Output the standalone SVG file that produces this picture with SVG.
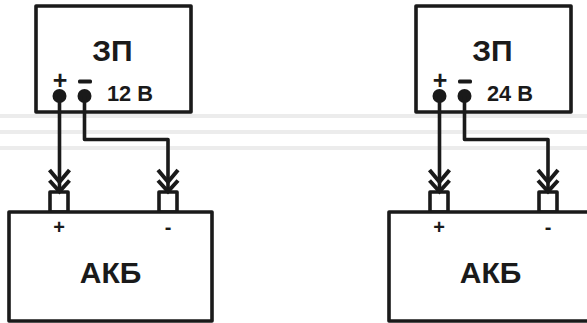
<svg xmlns="http://www.w3.org/2000/svg" width="587" height="323" viewBox="0 0 587 323">
<style>
.bg{stroke:#ececec;stroke-width:4;fill:none}
.box{fill:#fff;stroke:#1a1a1a;stroke-width:3.6;stroke-linejoin:round}
.w{fill:none;stroke:#1a1a1a;stroke-width:3.6;stroke-linejoin:round}
.c{fill:none;stroke:#1a1a1a;stroke-width:4}
.d{fill:#1a1a1a}
text{font-family:"Liberation Sans",Arial,sans-serif;font-weight:700;fill:#1a1a1a;text-anchor:middle}
.t{font-size:30px}.v{font-size:21.800px}.s{font-size:25px}.p{font-size:20px}
</style>
<defs>
<path id="ch" class="c" d="M-10,-22 L0,-10 L10,-22 M-10,-11.500 L0,-0.500 L10,-11.500"/>
</defs>
<rect width="587" height="323" fill="#fff"/>
<g id="background-lines">
<path class="bg" d="M0,116H587M0,132H587M0,148H587"/>
</g>
<g id="charger-12">
<rect class="box" x="36" y="6" width="155" height="106"/>
<text class="t" x="112.500" y="61">ЗП</text>
<text class="s" x="60" y="89">+</text>
<rect class="d" x="78" y="79.500" width="14" height="4" rx="1.500"/>
<circle class="d" cx="59.500" cy="96" r="7"/>
<circle class="d" cx="84.500" cy="96" r="7"/>
<text class="v" x="130" y="101">12 В</text>
</g>
<g id="battery-12">
<rect class="box" x="50" y="192" width="18" height="20"/>
<rect class="box" x="159" y="192" width="18" height="20"/>
<rect class="box" x="9" y="212" width="203" height="109"/>
<text class="p" x="59" y="234">+</text>
<text class="p" x="168" y="234">-</text>
<text class="t" x="110.500" y="283">АКБ</text>
</g>
<g id="charger-24">
<rect class="box" x="416" y="6" width="155" height="106"/>
<text class="t" x="492.500" y="61">ЗП</text>
<text class="s" x="440" y="89">+</text>
<rect class="d" x="458" y="79.500" width="14" height="4" rx="1.500"/>
<circle class="d" cx="439.500" cy="96" r="7"/>
<circle class="d" cx="464.500" cy="96" r="7"/>
<text class="v" x="510" y="101">24 В</text>
</g>
<g id="battery-24">
<rect class="box" x="430" y="192" width="18" height="20"/>
<rect class="box" x="539" y="192" width="18" height="20"/>
<rect class="box" x="389" y="212" width="203" height="109"/>
<text class="p" x="439" y="234">+</text>
<text class="p" x="548" y="234">-</text>
<text class="t" x="490.500" y="283">АКБ</text>
</g>
<g id="connectors">
<path class="w" d="M59.500,96V190"/>
<path class="w" d="M84.500,96V139.500H168V190"/>
<path class="w" d="M439.500,96V190"/>
<path class="w" d="M464.500,96V139.500H548V190"/>
<use href="#ch" x="59.500" y="192"/>
<use href="#ch" x="168" y="192"/>
<use href="#ch" x="439.500" y="192"/>
<use href="#ch" x="548" y="192"/>
</g>
</svg>
